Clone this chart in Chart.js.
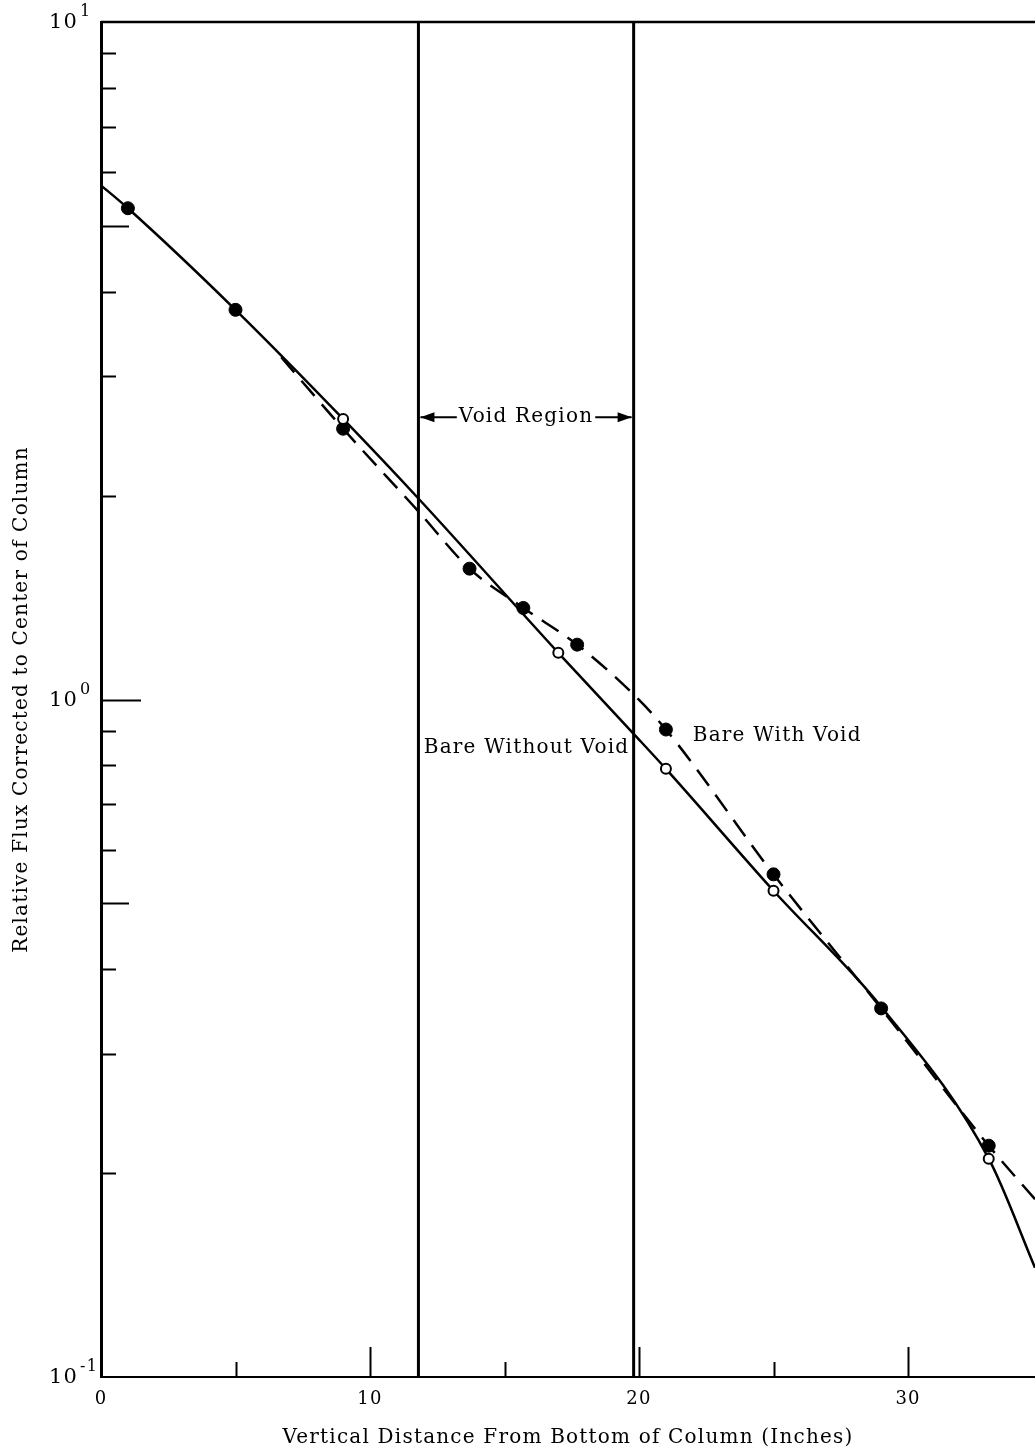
<!DOCTYPE html>
<html>
<head>
<meta charset="utf-8">
<script src="https://cdn.jsdelivr.net/npm/chart.js@4.4.1/dist/chart.umd.min.js"></script>
<style>
  html, body { margin: 0; padding: 0; background: #fff; overflow: hidden; }
  #wrap { width: 1035px; height: 1454px; }
</style>
</head>
<body>
<div id="wrap"><canvas id="fluxChart" width="1035" height="1454"></canvas></div>
<script>
// measured points, Bare With Void (filled)
const withVoidX = [1, 5, 9, 13.7, 15.7, 17.7, 21, 25, 29, 33];
const withVoidY = [5.31, 3.76, 2.51, 1.56, 1.365, 1.205, 0.903, 0.552, 0.350, 0.2195];

// measured points, Bare Without Void (open)
const withoutVoidX = [9, 17, 21, 25, 33];
const withoutVoidY = [2.595, 1.172, 0.79, 0.522, 0.21];

// faired curves
const solidCurveX = [0, 1, 5, 9, 11.8, 17, 19.8, 21, 25, 29, 33, 34.72];
const solidCurveY = [5.74, 5.31, 3.76, 2.595, 1.98, 1.172, 0.89, 0.79, 0.522, 0.352, 0.21, 0.145];
const dashCurveX = [6.7, 9, 11.8, 13.7, 15.7, 17.7, 19.8, 21, 25, 29, 33, 34.72];
const dashCurveY = [3.2, 2.51, 1.895, 1.56, 1.365, 1.205, 1.017, 0.903, 0.552, 0.350, 0.2195, 0.183];

// void region boundaries (inches)
const voidBounds = [11.8, 19.8];

// axis ticks
const xTickValues = [0, 10, 20, 30];
const xMinorTicks = [5, 10, 15, 20, 25, 30];
const yTickValues = [0.1, 1, 10];
const yTickExponents = ['-1', '0', '1'];
const yMinorTicks = [0.2, 0.3, 0.4, 0.5, 0.6, 0.7, 0.8, 0.9, 1, 2, 3, 4, 5, 6, 7, 8, 9];

const FONT = "'DejaVu Serif', 'Liberation Serif', serif";
Chart.defaults.font.family = FONT;
Chart.defaults.color = '#000';

const pts = (xs, ys) => xs.map((x, i) => ({x: x, y: ys[i]}));

const frame = {
  id: 'frame',
  beforeDraw(chart) {
    chart.ctx.letterSpacing = '1.2px';
  },
  afterDatasetsDraw(chart) {
    const {ctx, chartArea: a, scales: {x, y}} = chart;
    ctx.save();
    ctx.strokeStyle = '#000';
    ctx.fillStyle = '#000';

    // top edge
    ctx.lineWidth = 2.5;
    ctx.beginPath();
    ctx.moveTo(a.left, a.top);
    ctx.lineTo(a.right, a.top);
    ctx.stroke();

    // inward ticks on the log axis
    ctx.lineWidth = 2;
    yMinorTicks.forEach(v => {
      const m = Math.round(v / Math.pow(10, Math.floor(Math.log10(v) + 1e-9)));
      const len = m === 1 ? 40 : (m === 5 ? 28 : 15);
      const py = Math.round(y.getPixelForValue(v)) + 0.5;
      ctx.beginPath();
      ctx.moveTo(a.left, py);
      ctx.lineTo(a.left + len, py);
      ctx.stroke();
    });

    // inward ticks on the x axis
    xMinorTicks.forEach(v => {
      const len = v % 10 === 0 ? 30 : 15;
      const px = Math.round(x.getPixelForValue(v)) + 0.5;
      ctx.beginPath();
      ctx.moveTo(px, a.bottom);
      ctx.lineTo(px, a.bottom - len);
      ctx.stroke();
    });

    // powers of ten on the log axis
    ctx.textBaseline = 'middle';
    ctx.textAlign = 'left';
    yTickValues.forEach((v, i) => {
      const py = y.getPixelForValue(v);
      ctx.font = '21px ' + FONT;
      ctx.fillText('10', a.left - 52, py + 1);
      const w = ctx.measureText('10').width;
      ctx.font = '16px ' + FONT;
      ctx.fillText(yTickExponents[i], a.left - 52 + w + 2, py - 10);
    });

    // void region arrows + label
    const x1 = x.getPixelForValue(voidBounds[0]) + 2;
    const x2 = x.getPixelForValue(voidBounds[1]) - 2;
    const ay = y.getPixelForValue(2.61);
    ctx.font = '20px ' + FONT;
    ctx.textBaseline = 'middle';
    ctx.textAlign = 'center';
    const label = 'Void Region';
    const cx = (x1 + x2) / 2;
    const tw = ctx.measureText(label).width;
    ctx.fillText(label, cx, ay);
    ctx.lineWidth = 2;
    ctx.beginPath();
    ctx.moveTo(x1, ay); ctx.lineTo(cx - tw / 2 - 2, ay);
    ctx.moveTo(cx + tw / 2 + 2, ay); ctx.lineTo(x2, ay);
    ctx.stroke();
    [[x1, 1], [x2, -1]].forEach(([tx, d]) => {
      ctx.beginPath();
      ctx.moveTo(tx, ay);
      ctx.lineTo(tx + d * 14, ay - 5);
      ctx.lineTo(tx + d * 14, ay + 5);
      ctx.closePath();
      ctx.fill();
    });

    // curve labels
    ctx.textAlign = 'left';
    ctx.fillText('Bare Without Void', x.getPixelForValue(12.0), y.getPixelForValue(0.85));
    ctx.fillText('Bare With Void', x.getPixelForValue(22.0), y.getPixelForValue(0.885));
    ctx.restore();
  }
};

const voidLine = (xv) => ({
  type: 'line',
  data: [{x: xv, y: 0.1}, {x: xv, y: 10}],
  borderColor: '#000',
  borderWidth: 3,
  pointRadius: 0,
  order: 5
});

new Chart(document.getElementById('fluxChart'), {
  type: 'scatter',
  data: {
    datasets: [
      {
        label: 'Bare With Void',
        data: pts(withVoidX, withVoidY),
        backgroundColor: '#000',
        borderColor: '#000',
        pointRadius: 6.5,
        order: 1
      },
      {
        label: 'Bare Without Void',
        data: pts(withoutVoidX, withoutVoidY),
        backgroundColor: '#fff',
        borderColor: '#000',
        borderWidth: 2,
        pointRadius: 5,
        order: 0
      },
      {
        type: 'line',
        label: 'Without void curve',
        data: pts(solidCurveX, solidCurveY),
        borderColor: '#000',
        borderWidth: 2.5,
        pointRadius: 0,
        cubicInterpolationMode: 'monotone',
        order: 3
      },
      {
        type: 'line',
        label: 'With void curve',
        data: pts(dashCurveX, dashCurveY),
        borderColor: '#000',
        borderWidth: 2.5,
        borderDash: [20, 11],
        pointRadius: 0,
        cubicInterpolationMode: 'monotone',
        order: 4
      },
      voidLine(voidBounds[0]),
      voidLine(voidBounds[1])
    ]
  },
  options: {
    responsive: false,
    animation: false,
    devicePixelRatio: 1,
    layout: { autoPadding: false, padding: { top: 22, right: 0, left: 0, bottom: 0 } },
    plugins: { legend: { display: false }, tooltip: { enabled: false } },
    scales: {
      x: {
        type: 'linear',
        min: 0,
        max: 34.72,
        grid: { display: false },
        border: { display: true, color: '#000', width: 2 },
        afterBuildTicks: s => { s.ticks = xTickValues.map(v => ({value: v})); },
        afterFit: s => { s.height = 77; s.paddingLeft = 0; s.paddingRight = 0; },
        ticks: { font: { size: 18 }, padding: 4, maxRotation: 0 },
        title: {
          display: true,
          text: 'Vertical Distance From Bottom of Column (Inches)',
          font: { size: 20 },
          padding: { top: 0, bottom: 4 }
        }
      },
      y: {
        type: 'logarithmic',
        min: 0.1,
        max: 10,
        grid: { display: false },
        border: { display: true, color: '#000', width: 3 },
        afterBuildTicks: s => { s.ticks = yTickValues.map(v => ({value: v})); },
        afterFit: s => { s.width = 101; s.paddingTop = 0; s.paddingBottom = 0; },
        ticks: { display: false },
        title: {
          display: true,
          text: 'Relative Flux Corrected to Center of Column',
          font: { size: 20 },
          padding: { top: 10, bottom: 0 }
        }
      }
    }
  },
  plugins: [frame]
});
</script>
</body>
</html>
